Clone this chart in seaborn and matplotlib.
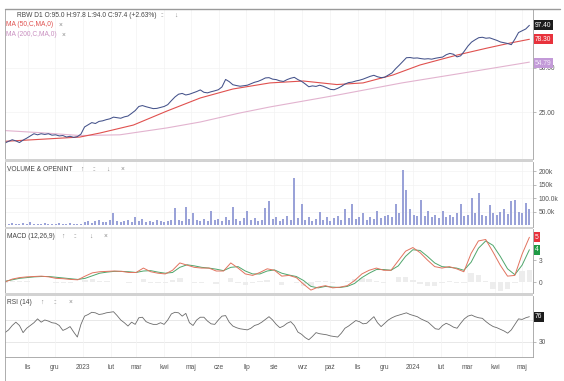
import numpy as np
import pandas as pd
import matplotlib
matplotlib.use("Agg")
import matplotlib.pyplot as plt
from matplotlib.patches import Rectangle
from matplotlib.lines import Line2D
import seaborn as sns

# ---------------- data ----------------
start_date = "2022-10-07"
end_date = "2024-05-09"

price = [15.5, 15.9, 16.3, 16.0, 15.6, 16.2, 16.7, 17.3, 17.9, 17.6,
         17.9, 17.7, 17.9, 17.5, 17.6, 17.3, 17.4, 17.0, 17.2, 16.9,
         17.1, 17.8, 19.9, 20.6, 21.3, 21.0, 21.7, 21.9, 22.3, 22.6,
         23.2, 23.0, 22.8, 23.3, 23.6, 24.6, 25.7, 27.4, 27.8, 27.3,
         26.9, 26.5, 26.6, 27.0, 27.4, 28.2, 30.0, 31.8, 33.2, 33.6,
         32.8, 33.2, 33.9, 34.6, 35.5, 34.2, 33.9, 34.5, 35.0, 35.6,
         37.2, 41.8, 40.4, 38.5, 38.0, 37.6, 37.9, 38.2, 39.1, 40.0,
         40.6, 41.6, 42.8, 43.0, 42.0, 41.7, 40.9, 40.5, 41.7, 42.6,
         43.2, 41.7, 40.6, 39.0, 37.3, 37.8, 37.5, 38.2, 37.6, 36.7,
         35.8, 35.6, 36.4, 37.5, 38.9, 39.8, 40.1, 40.8, 41.3, 42.0,
         42.9, 43.9, 44.6, 43.6, 43.0, 43.3, 44.8, 46.3, 49.4, 52.2,
         55.3, 58.7, 58.9, 58.3, 58.5, 57.9, 57.5, 57.8, 57.4, 58.2,
         58.8, 59.3, 61.5, 62.8, 62.0, 59.5, 60.5, 65.0, 70.4, 74.9,
         77.7, 80.3, 80.8, 79.6, 80.1, 78.5, 77.0, 75.1, 74.2, 73.3,
         72.0, 78.5, 87.0, 89.5, 92.0, 97.4]

volume_k = [6, 5, 8, 7, 5, 9, 6, 13, 7, 5, 6, 8, 5, 7, 6, 9, 5, 6, 8, 4, 6, 7,
            12, 18, 10, 15, 22, 14, 12, 20, 46,
            15, 12, 18, 22, 14, 31, 16, 25, 12, 18, 14, 20, 15, 12, 18,
            20, 65, 22, 18, 68, 25, 46, 20, 16, 24,
            18, 55, 20, 25, 16, 30, 22, 70, 24, 18, 28, 55, 20, 26, 18,
            22, 65, 90, 25, 30, 18, 24, 35, 20, 175, 28, 80, 22, 30, 18,
            25, 50, 22, 30, 18, 26, 35, 22, 60, 28, 80, 24, 30, 45, 22,
            30, 25, 55, 28, 35, 40, 30, 80, 45, 205, 130, 60, 40, 35, 95,
            35, 55, 30, 40, 28, 55, 32, 38, 30, 45, 80, 35, 40, 100, 45,
            120, 40, 35, 76, 45, 38, 50, 60, 42, 90, 94, 50, 45, 83, 60]

rsi = [47, 52, 60, 66, 60, 47, 55, 60, 65, 72,
       66, 70, 68, 65, 64, 60, 51, 54, 58, 48,
       39, 62, 77, 80, 84, 83, 80, 81, 83, 84,
       85, 78, 70, 65, 59, 66, 62, 74, 75, 67,
       64, 62, 62, 65, 62, 70, 81, 84, 83, 77,
       82, 65, 60, 70, 75, 75, 68, 63, 62, 70,
       77, 78, 66, 59, 56, 54, 53, 52, 55, 60,
       62, 66, 71, 76, 70, 62, 56, 59, 64, 67,
       60, 48, 44, 38, 34, 40, 47, 45, 44, 43,
       41, 40, 39, 46, 55, 59, 64, 69, 67, 63,
       64, 70, 76, 65, 58, 64, 70, 74, 77, 79,
       81, 83, 80, 78, 76, 72, 69, 66, 60, 54,
       53, 60, 64, 61, 57, 55, 64, 72, 77, 79,
       76, 74, 73, 67, 62, 58, 56, 53, 50, 46,
       52, 62, 72, 71, 74, 76]

macd = [0.0, 0.4, 0.6, 0.7, 0.75, 0.8, 0.7, 0.5, 0.45, 0.35,
        0.3, 0.8, 1.25, 1.4, 1.45, 1.5, 1.45, 1.3, 1.3, 1.9,
        1.4, 1.2, 1.1, 1.6, 2.6, 2.3, 2.0, 1.9, 1.9, 1.5,
        1.5, 2.6, 1.9, 1.1, 0.9, 1.3, 1.8, 1.6, 0.8, 0.9,
        0.6, -0.3, -1.1, -0.7, -0.5, -0.8, -0.7, -0.5, 0.2, 1.1,
        1.6, 1.9, 1.6, 1.6, 2.9, 4.2, 4.7, 4.0, 3.0, 2.1,
        1.9, 2.1, 1.8, 1.4, 3.9, 5.6, 5.8, 4.1, 2.3, 0.8,
        0.9, 3.8, 6.1]

signal = [0.1, 0.3, 0.5, 0.6, 0.7, 0.75, 0.75, 0.65, 0.55, 0.45,
          0.35, 0.5, 0.85, 1.2, 1.35, 1.45, 1.45, 1.4, 1.3, 1.5,
          1.55, 1.35, 1.2, 1.3, 2.0, 2.35, 2.2, 2.0, 1.9, 1.75,
          1.55, 2.0, 2.1, 1.5, 1.1, 1.1, 1.5, 1.65, 1.2, 0.95,
          0.75, 0.2, -0.6, -0.8, -0.6, -0.7, -0.75, -0.6, -0.2, 0.6,
          1.2, 1.7, 1.7, 1.6, 2.2, 3.5, 4.4, 4.3, 3.5, 2.6,
          2.1, 2.0, 1.9, 1.6, 2.7, 4.6, 5.6, 5.0, 3.5, 1.8,
          1.0, 2.3, 4.4]

ma50_dates = ["2022-10-07", "2022-11-15", "2022-12-29", "2023-01-20", "2023-02-26",
              "2023-04-04", "2023-05-11", "2023-06-16", "2023-07-27", "2023-09-02",
              "2023-10-09", "2023-11-07", "2023-12-10", "2024-01-09", "2024-02-19",
              "2024-03-23", "2024-04-18", "2024-05-09"]
ma50 = [15.9, 16.4, 17.0, 18.1, 20.5, 25.5, 31.3, 36.0, 39.6, 40.8,
        38.6, 39.6, 44.8, 52.4, 61.2, 68.2, 73.9, 78.3]

ma200_dates = ["2022-10-07", "2022-11-15", "2022-12-29", "2023-02-11", "2023-04-04",
               "2023-05-11", "2023-06-23", "2023-07-27", "2023-10-09", "2023-12-20",
               "2024-03-04", "2024-05-09"]
ma200 = [18.8, 18.2, 17.4, 17.6, 19.6, 21.5, 24.7, 27.2, 32.7, 39.6, 47.0, 54.79]

month_ticks = ["2022-11-01", "2022-12-01", "2023-01-01", "2023-02-01", "2023-03-01",
               "2023-04-01", "2023-05-01", "2023-06-01", "2023-07-01", "2023-08-01",
               "2023-09-01", "2023-10-01", "2023-11-01", "2023-12-01", "2024-01-01",
               "2024-02-01", "2024-03-01", "2024-04-01", "2024-05-01"]
month_labels = ["lis", "gru", "2023", "lut", "mar", "kwi", "maj", "cze", "lip", "sie",
                "wrz", "paź", "lis", "gru", "2024", "lut", "mar", "kwi", "maj"]

price_ticks = [25, 50]
price_tick_labels = ["25.00", "50.00"]
vol_ticks = [50, 100, 150, 200]
vol_tick_labels = ["50.0k", "100.0k", "150k", "200k"]
macd_ticks = [0, 3]
macd_tick_labels = ["0", "3"]
rsi_ticks = [30]
rsi_tick_labels = ["30"]

header = "RBW D1 O:95.0 H:97.8 L:94.0 C:97.4 (+2.63%)"
ma50_title = "MA (50,C,MA,0)"
ma200_title = "MA (200,C,MA,0)"
vol_title = "VOLUME & OPENINT"
macd_title = "MACD (12,26,9)"
rsi_title = "RSI (14)"

price_box, ma50_box, ma200_box = "97.40", "78.30", "54.79"
macd_box, signal_box, rsi_box = "5", "4", "76"

# ---------------- style ----------------
sns.set_theme(style="white")
plt.rcParams["font.family"] = ["Liberation Sans", "DejaVu Sans"]

C_PRICE = "#44528a"
C_MA50 = "#e0514f"
C_MA200 = "#e2b3cf"
C_MA200_BOX = "#c39ad8"
C_VOL = "#9aa2d8"
C_MACD = "#e2735f"
C_SIG = "#4fa66c"
C_RSI = "#6b6b6b"
C_TXT = "#444444"
C_ICON = "#888888"
C_SPINE = "#a0a0a0"
C_SEP = "#d2d2d2"
FS = 4.8

W, H = 564, 381
fig = plt.figure(figsize=(W / 100, H / 100), dpi=100)
fig.patch.set_facecolor("white")


def add_ax(y0, y1, x0=5, x1=533):
    return fig.add_axes([x0 / W, 1 - y1 / H, (x1 - x0) / W, (y1 - y0) / H])


ax_p = add_ax(9, 159)
ax_v = add_ax(162, 227)
ax_m = add_ax(229, 293)
ax_r = add_ax(296, 357)
axes = [ax_p, ax_v, ax_m, ax_r]

price_dates = pd.date_range(start_date, end_date, periods=len(price))
vol_dates = pd.date_range(start_date, end_date, periods=len(volume_k))
rsi_dates = pd.date_range(start_date, end_date, periods=len(rsi))
macd_dates = pd.date_range(start_date, end_date, periods=len(macd))
xmin, xmax = pd.Timestamp("2022-10-07"), pd.Timestamp("2024-05-13")
mt = pd.to_datetime(month_ticks)

# price panel
sns.lineplot(x=pd.to_datetime(ma200_dates), y=ma200, ax=ax_p, color=C_MA200,
             linewidth=0.8, estimator=None)
sns.lineplot(x=pd.to_datetime(ma50_dates), y=ma50, ax=ax_p, color=C_MA50,
             linewidth=0.8, estimator=None)
sns.lineplot(x=price_dates, y=price, ax=ax_p, color=C_PRICE, linewidth=0.75,
             estimator=None)
ax_p.set_yscale("log")
ax_p.set_ylim(12.06, 125.7)
ax_p.set_yticks(price_ticks)
ax_p.set_yticklabels(price_tick_labels)
ax_p.minorticks_off()

# volume panel
ax_v.bar(vol_dates, volume_k, width=2.2, color=C_VOL, linewidth=0)
ax_v.set_ylim(-5.6, 235)
ax_v.set_yticks(vol_ticks)
ax_v.set_yticklabels(vol_tick_labels)

# macd panel
hist = np.array(macd) - np.array(signal)
ax_m.bar(macd_dates, hist, width=6, color="#ededed", linewidth=0)
sns.lineplot(x=macd_dates, y=signal, ax=ax_m, color=C_SIG, linewidth=0.7,
             estimator=None)
sns.lineplot(x=macd_dates, y=macd, ax=ax_m, color=C_MACD, linewidth=0.7,
             estimator=None)
ax_m.set_ylim(-1.5, 7.23)
ax_m.set_yticks(macd_ticks)
ax_m.set_yticklabels(macd_tick_labels)

# rsi panel
ax_r.axhline(70, color="#e4e4e4", linewidth=0.6, zorder=0)
ax_r.axhline(30, color="#e4e4e4", linewidth=0.6, zorder=0)
sns.lineplot(x=rsi_dates, y=rsi, ax=ax_r, color=C_RSI, linewidth=0.6,
             estimator=None)
ax_r.set_ylim(2.7, 113.6)
ax_r.set_yticks(rsi_ticks)
ax_r.set_yticklabels(rsi_tick_labels)

for ax in axes:
    ax.set_xlim(xmin, xmax)
    ax.set_facecolor("white")
    ax.set_xlabel("")
    ax.set_ylabel("")
    ax.yaxis.tick_right()
    ax.tick_params(axis="y", which="major", direction="out", length=2, width=0.5,
                   pad=2, labelsize=FS, colors=C_SPINE, labelcolor="#555555")
    ax.set_xticks(mt)
    ax.grid(axis="x", color="#f3f3f3", linewidth=0.5)
    for s in ["left", "right", "bottom", "top"]:
        ax.spines[s].set_color(C_SPINE)
        ax.spines[s].set_linewidth(0.6)
    ax.spines["top"].set_visible(False)
    if ax is not ax_r:
        ax.tick_params(axis="x", length=0, labelbottom=False)
        ax.spines["bottom"].set_visible(False)
ax_p.grid(axis="y", color="#f3f3f3", linewidth=0.5)
ax_v.grid(axis="y", color="#f3f3f3", linewidth=0.5)

ax_r.set_xticklabels(month_labels)
ax_r.tick_params(axis="x", direction="out", length=2, width=0.5, pad=3,
                 labelsize=FS, colors=C_SPINE, labelcolor="#555555")


# value boxes on the right
def value_box(ax, y, text, fc, tc="white"):
    ax.text(1.004, y, text, transform=ax.get_yaxis_transform(), ha="left",
            va="center", fontsize=FS, color=tc, zorder=10, clip_on=False,
            bbox=dict(boxstyle="square,pad=0.2", fc=fc, ec="none"))


value_box(ax_p, price[-1], price_box, "#1c1c1c")
value_box(ax_p, ma50[-1], ma50_box, "#e8323c")
value_box(ax_p, ma200[-1] * 0.985, ma200_box, C_MA200_BOX, "#f4ecfa")
value_box(ax_m, macd[-1], macd_box, "#e8323c")
value_box(ax_m, signal[-1], signal_box, "#1f9a45")
value_box(ax_r, rsi[-1], rsi_box, "#1c1c1c")

# separators and frame
for (y0, y1) in [(159, 162), (227, 229), (293, 296)]:
    fig.add_artist(Rectangle((5 / W, 1 - y1 / H), (533 - 5) / W, (y1 - y0) / H,
                             transform=fig.transFigure, fc=C_SEP, ec="none"))
fig.add_artist(Line2D([5 / W, 560 / W], [1 - 8.5 / H, 1 - 8.5 / H],
                      transform=fig.transFigure, color="#9a9a9a", linewidth=1.0))
fig.add_artist(Line2D([5 / W, 5 / W], [1 - 357 / H, 0], transform=fig.transFigure,
                      color=C_SPINE, linewidth=0.6))


# titles
def ftext(x, y, s, color=C_TXT, fs=FS):
    fig.text(x / W, 1 - y / H, s, ha="left", va="center", fontsize=fs, color=color)


ftext(17, 15.5, header)
ftext(160, 15.5, "::", C_ICON)
ftext(174, 15.5, "↓", C_ICON)
ftext(6, 25, ma50_title, C_MA50)
ftext(59, 25, "×", C_ICON)
ftext(6, 35, ma200_title, "#c98fc0")
ftext(62, 35, "×", C_ICON)

ftext(7, 169.5, vol_title)
ftext(80, 169.5, "↑", C_ICON)
ftext(92, 169.5, "::", C_ICON)
ftext(106, 169.5, "↓", C_ICON)
ftext(121, 169.5, "×", C_ICON)

ftext(7, 236, macd_title)
ftext(61, 236, "↑", C_ICON)
ftext(73, 236, "::", C_ICON)
ftext(89, 236, "↓", C_ICON)
ftext(104, 236, "×", C_ICON)

ftext(7, 302.5, rsi_title)
ftext(40, 302.5, "↑", C_ICON)
ftext(53, 302.5, "::", C_ICON)
ftext(69, 302.5, "×", C_ICON)

fig.savefig("out.png", dpi=100)
